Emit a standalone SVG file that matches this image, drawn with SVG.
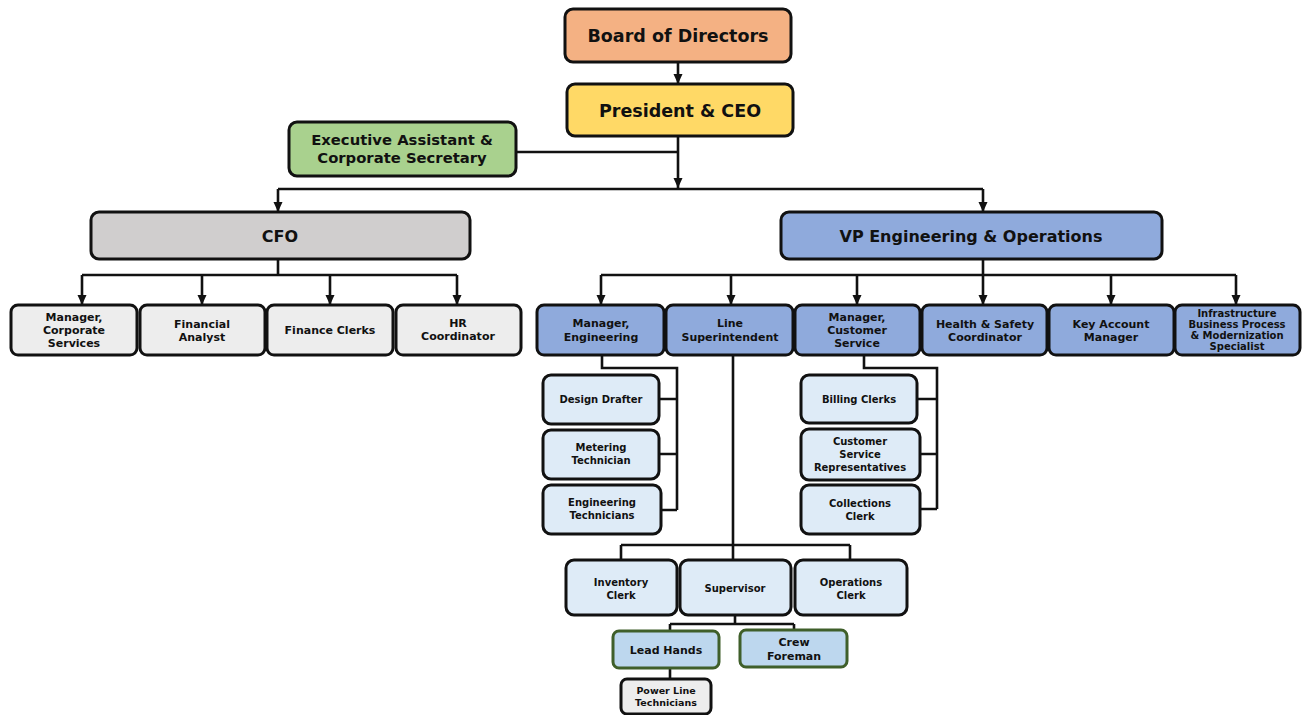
<svg xmlns="http://www.w3.org/2000/svg" width="1304" height="715" viewBox="0 0 1304 715">
<defs>
<marker id="ah" markerUnits="userSpaceOnUse" markerWidth="10" markerHeight="10" viewBox="0 0 10 10" refX="10" refY="5" orient="auto">
<path d="M0,0.5 L10,5 L0,9.5 Z" fill="#111"/>
</marker>
<style>
rect{stroke:#111;stroke-width:3}
text{font-family:"DejaVu Sans","Verdana",sans-serif;font-weight:bold;fill:#111;text-anchor:middle}
.c{fill:none;stroke:#111;stroke-width:2.6}
.a{marker-end:url(#ah)}
.or{fill:#F4B183}.ye{fill:#FFD966}.gr{fill:#A9D18E}.gy{fill:#D0CECE}.bl{fill:#8FAADC}.lg{fill:#EDEDED}.lb{fill:#DEEBF7}.mb{fill:#BDD7EE;stroke:#3F5F2A}
.t1{font-size:17.5px}.t2{font-size:16px}.t5{font-size:14.8px}.t3{font-size:11px}.t4{font-size:10px}
</style>
</defs>
<rect width="1304" height="715" fill="#fff" style="stroke:none"/>
<g id="connectors">
<path class="c a" d="M678,62 V84"/>
<path class="c a" d="M678,136 V188"/>
<path class="c" d="M516,152 H678"/>
<path class="c" d="M278,189 H983"/>
<path class="c a" d="M278,189 V212"/>
<path class="c a" d="M983,189 V212"/>
<path class="c" d="M278,259 V275 M82,275 H457"/>
<path class="c a" d="M82,275 V305"/>
<path class="c a" d="M202,275 V305"/>
<path class="c a" d="M330,275 V305"/>
<path class="c a" d="M457,275 V305"/>
<path class="c" d="M983,259 V275 M601,275 H1236"/>
<path class="c a" d="M601,275 V305"/>
<path class="c a" d="M731,275 V305"/>
<path class="c a" d="M857,275 V305"/>
<path class="c a" d="M983,275 V305"/>
<path class="c a" d="M1111,275 V305"/>
<path class="c a" d="M1236,275 V305"/>
<path class="c" d="M602,355 V368 H677 V510 M659,399 H677 M659,454 H677 M661,510 H677"/>
<path class="c" d="M864,355 V368 H937 V509 M917,399 H937 M920,454 H937 M920,509 H937"/>
<path class="c" d="M733,355 V560 M621,545 H850 M621,545 V560 M850,545 V560"/>
<path class="c" d="M735,615 V624 M670,624 H794 M670,624 V631 M794,624 V630"/>
<path class="c" d="M670,668 V679"/>
</g>
<g id="board"><rect class="or" x="565" y="9" width="226" height="53" rx="8"/><text class="t1" x="678" y="42">Board of Directors</text></g>
<g id="ceo"><rect class="ye" x="567" y="84" width="226" height="52" rx="8"/><text class="t1" x="680" y="117">President &amp; CEO</text></g>
<g id="exec"><rect class="gr" x="289" y="122" width="227" height="54" rx="8"/><text class="t5" x="402" y="145">Executive Assistant &amp;</text><text class="t5" x="402" y="163">Corporate Secretary</text></g>
<g id="cfo"><rect class="gy" x="91" y="212" width="379" height="47" rx="8"/><text class="t2" x="280" y="242">CFO</text></g>
<g id="vp"><rect class="bl" x="781" y="212" width="381" height="47" rx="8"/><text class="t2" x="971" y="242">VP Engineering &amp; Operations</text></g>
<g id="mcs"><rect class="lg" x="11" y="305" width="126" height="50" rx="7"/><text class="t3" x="74" y="321">Manager,</text><text class="t3" x="74" y="334">Corporate</text><text class="t3" x="74" y="347">Services</text></g>
<g id="fa"><rect class="lg" x="140" y="305" width="125" height="50" rx="7"/><text class="t3" x="202" y="328">Financial</text><text class="t3" x="202" y="341">Analyst</text></g>
<g id="fc"><rect class="lg" x="267" y="305" width="126" height="50" rx="7"/><text class="t3" x="330" y="334">Finance Clerks</text></g>
<g id="hr"><rect class="lg" x="396" y="305" width="125" height="50" rx="7"/><text class="t3" x="458" y="327">HR</text><text class="t3" x="458" y="340">Coordinator</text></g>
<g id="meng"><rect class="bl" x="537" y="305" width="127" height="50" rx="7"/><text class="t3" x="601" y="327">Manager,</text><text class="t3" x="601" y="341">Engineering</text></g>
<g id="ls"><rect class="bl" x="666" y="305" width="127" height="50" rx="7"/><text class="t3" x="730" y="327">Line</text><text class="t3" x="730" y="341">Superintendent</text></g>
<g id="mcust"><rect class="bl" x="795" y="305" width="125" height="50" rx="7"/><text class="t3" x="857" y="321">Manager,</text><text class="t3" x="857" y="334">Customer</text><text class="t3" x="857" y="347">Service</text></g>
<g id="hs"><rect class="bl" x="922" y="305" width="125" height="50" rx="7"/><text class="t3" x="985" y="328">Health &amp; Safety</text><text class="t3" x="985" y="341">Coordinator</text></g>
<g id="kam"><rect class="bl" x="1049" y="305" width="125" height="50" rx="7"/><text class="t3" x="1111" y="328">Key Account</text><text class="t3" x="1111" y="341">Manager</text></g>
<g id="infra"><rect class="bl" x="1175" y="305" width="125" height="50" rx="7"/><text class="t4" x="1237" y="317">Infrastructure</text><text class="t4" x="1237" y="328">Business Process</text><text class="t4" x="1237" y="339">&amp; Modernization</text><text class="t4" x="1237" y="350">Specialist</text></g>
<g id="dd"><rect class="lb" x="543" y="375" width="116" height="49" rx="8"/><text class="t4" x="601" y="403">Design Drafter</text></g>
<g id="mt"><rect class="lb" x="543" y="430" width="116" height="49" rx="8"/><text class="t4" x="601" y="451">Metering</text><text class="t4" x="601" y="464">Technician</text></g>
<g id="et"><rect class="lb" x="543" y="485" width="118" height="49" rx="8"/><text class="t4" x="602" y="506">Engineering</text><text class="t4" x="602" y="519">Technicians</text></g>
<g id="bc"><rect class="lb" x="801" y="375" width="116" height="48" rx="8"/><text class="t4" x="859" y="403">Billing Clerks</text></g>
<g id="csr"><rect class="lb" x="801" y="429" width="119" height="51" rx="8"/><text class="t4" x="860" y="445">Customer</text><text class="t4" x="860" y="458">Service</text><text class="t4" x="860" y="471">Representatives</text></g>
<g id="cc"><rect class="lb" x="801" y="485" width="119" height="49" rx="8"/><text class="t4" x="860" y="507">Collections</text><text class="t4" x="860" y="520">Clerk</text></g>
<g id="ic"><rect class="lb" x="566" y="560" width="111" height="55" rx="8"/><text class="t4" x="621" y="586">Inventory</text><text class="t4" x="621" y="599">Clerk</text></g>
<g id="sup"><rect class="lb" x="680" y="560" width="111" height="55" rx="8"/><text class="t4" x="735" y="592">Supervisor</text></g>
<g id="oc"><rect class="lb" x="795" y="560" width="112" height="55" rx="8"/><text class="t4" x="851" y="586">Operations</text><text class="t4" x="851" y="599">Clerk</text></g>
<g id="lh"><rect class="mb" x="613" y="631" width="106" height="37" rx="6"/><text class="t3" x="666" y="654">Lead Hands</text></g>
<g id="cf"><rect class="mb" x="740" y="630" width="107" height="37" rx="6"/><text class="t3" x="794" y="646">Crew</text><text class="t3" x="794" y="660">Foreman</text></g>
<g id="plt"><rect class="lg" x="621" y="679" width="90" height="35" rx="6"/><text class="t4" x="666" y="694" style="font-size:9.5px">Power Line</text><text class="t4" x="666" y="706" style="font-size:9.5px">Technicians</text></g>
</svg>
